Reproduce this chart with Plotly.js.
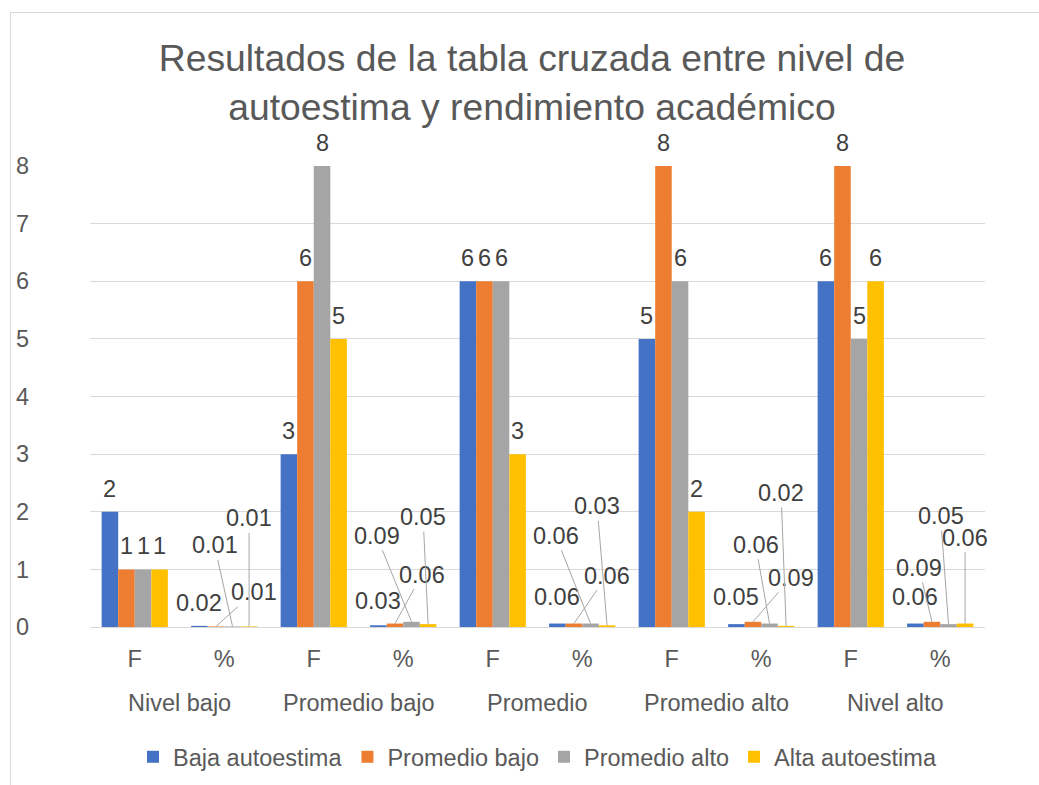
<!DOCTYPE html>
<html>
<head>
<meta charset="utf-8">
<script src="https://cdn.plot.ly/plotly-3.0.1.min.js"></script>
<style>
  html, body { margin: 0; padding: 0; background: #fff; overflow: hidden; }
  #chart { width: 1039px; height: 785px; }
  #frame { position: absolute; left: 10px; top: 12px; width: 1200px; height: 1000px;
           border: 1px solid #d9d9d9; pointer-events: none; }
</style>
</head>
<body>
<div id="chart"></div>
<div id="frame"></div>
<script>
// ---- data ----
const groups = ['Nivel bajo', 'Promedio bajo', 'Promedio', 'Promedio alto', 'Nivel alto'];
const subcats = ['F', '%'];
const seriesNames = ['Baja autoestima', 'Promedio bajo', 'Promedio alto', 'Alta autoestima'];
const bajaAutoestima = [2, 0.02, 3, 0.03, 6, 0.06, 5, 0.05, 6, 0.06];
const promedioBajo   = [1, 0.01, 6, 0.06, 6, 0.06, 8, 0.09, 8, 0.09];
const promedioAlto   = [1, 0.01, 8, 0.09, 6, 0.06, 6, 0.06, 5, 0.05];
const altaAutoestima = [1, 0.01, 5, 0.05, 3, 0.03, 2, 0.02, 6, 0.06];

// ---- styles ----
const colors = ['#4472C4', '#ED7D31', '#A5A5A5', '#FFC000'];
const bargap = 0.26;
const fs = 23.5;
const countLabelLift = 23;
// pixel offsets of the "%" data labels (per group, per series): [ax, ay, leaderLine]
const pctLabelOffsets = [
  [[0, -23, false], [38, -34, true], [-18, -81, true], [0, -108, true]],
  [[0, -24, false], [27, -49, true], [-35, -86, true], [-5, -107, true]],
  [[0, -27, false], [33, -48, true], [-35, -88, true], [-10, -119, true]],
  [[0, -27, false], [38, -44, true], [-14, -79, true], [-5, -133, true]],
  [[0, -27, false], [-13, -54, true], [-8, -108, true], [0, -86, true]]
];

const allSeries = [bajaAutoestima, promedioBajo, promedioAlto, altaAutoestima];
const nCats = groups.length * subcats.length;
const xIdx = Array.from({length: nCats}, (_, i) => i);
const tickText = xIdx.map(i => subcats[i % subcats.length]);
const font = 'Liberation Sans, Arial, sans-serif';

const traces = allSeries.map((vals, s) => ({
  type: 'bar',
  name: seriesNames[s],
  x: xIdx,
  y: vals,
  marker: {color: colors[s]},
  cliponaxis: false,
  hoverinfo: 'skip'
}));

const barW = (1 - bargap) / allSeries.length;
const barX = (i, s) => i + (s - (allSeries.length - 1) / 2) * barW;
const annotations = [];
// count labels (F) above the bars
allSeries.forEach((vals, s) => {
  vals.forEach((v, i) => {
    if (i % 2 !== 0) return;
    annotations.push({
      x: barX(i, s), y: v, xref: 'x', yref: 'y',
      text: String(v), showarrow: false, yanchor: 'middle', yshift: countLabelLift,
      font: {family: font, size: fs, color: '#404040'}
    });
  });
});
// percentage labels with leader lines
groups.forEach((g, gi) => {
  const i = gi * 2 + 1;
  allSeries.forEach((vals, s) => {
    const off = pctLabelOffsets[gi][s];
    const a = {
      x: barX(i, s), y: vals[i], xref: 'x', yref: 'y',
      text: vals[i].toFixed(2),
      font: {family: font, size: fs, color: '#404040'}
    };
    if (off[2]) {
      Object.assign(a, {showarrow: true, ax: off[0], ay: off[1], arrowhead: 0,
        arrowwidth: 1, arrowcolor: '#A6A6A6', standoff: 0, startstandoff: 0});
    } else {
      Object.assign(a, {showarrow: false, xshift: off[0], yshift: -off[1]});
    }
    annotations.push(a);
  });
});
// group labels (second level of the category axis)
groups.forEach((g, gi) => {
  annotations.push({
    x: gi * 2 + 0.5, y: 0, xref: 'x', yref: 'y', yanchor: 'middle',
    yshift: -76, showarrow: false, text: g,
    font: {family: font, size: fs, color: '#595959'}
  });
});

const layout = {
  width: 1039, height: 785,
  margin: {l: 90, r: 54, t: 166, b: 158, autoexpand: false},
  paper_bgcolor: '#ffffff', plot_bgcolor: '#ffffff',
  font: {family: font, color: '#595959'},
  title: {
    text: 'Resultados de la tabla cruzada entre nivel de<br>autoestima y rendimiento académico',
    font: {family: font, size: 37.3, color: '#595959'},
    x: 0.512, xref: 'container', xanchor: 'center',
    y: 0.909, yref: 'container', yanchor: 'middle'
  },
  barmode: 'group',
  bargap: bargap,
  bargroupgap: 0,
  showlegend: true,
  legend: {
    orientation: 'h', x: 0.5, xanchor: 'center', y: -0.282, yanchor: 'middle',
    font: {family: font, size: fs, color: '#595959'},
    traceorder: 'normal', itemclick: false, itemwidth: 30
  },
  xaxis: {
    type: 'linear', range: [-0.5, nCats - 0.5], automargin: false,
    tickmode: 'array', tickvals: xIdx, ticktext: tickText,
    tickfont: {family: font, size: fs, color: '#595959'},
    ticks: '', showgrid: false, zeroline: false, showline: false,
    ticklabelstandoff: 15, fixedrange: true
  },
  yaxis: {
    range: [0, 8], dtick: 1, tick0: 0, automargin: false,
    tickfont: {family: font, size: fs, color: '#595959'},
    ticks: '', showgrid: true, gridcolor: '#d9d9d9', gridwidth: 1,
    zeroline: true, zerolinecolor: '#d9d9d9', zerolinewidth: 1,
    showline: false, ticklabelstandoff: 60, fixedrange: true
  },
  annotations: annotations
};

Plotly.newPlot('chart', traces, layout, {displayModeBar: false, staticPlot: true});
</script>
</body>
</html>
